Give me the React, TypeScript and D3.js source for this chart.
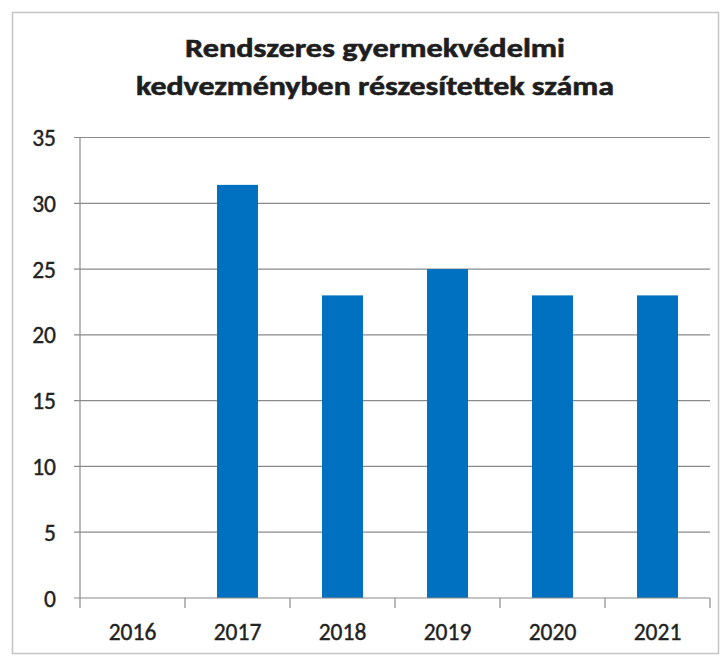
import React from "react";
import * as d3 from "d3";

const titleLines = ["Rendszeres gyermekvédelmi", "kedvezményben részesítettek száma"];
const categories = ["2016", "2017", "2018", "2019", "2020", "2021"];
const values = [0, 31.4, 23, 25, 23, 23];
const yTicks = [0, 5, 10, 15, 20, 25, 30, 35];

const W = 724;
const H = 660;
const plot = { left: 80, right: 710, top: 137.5, bottom: 598 };
const FONT = "Carlito, Lato, 'Open Sans', sans-serif";
const titleWidths = [380, 478];

export default function App() {
  const x = d3.scaleBand<string>().domain(categories).range([plot.left, plot.right]).paddingInner(0.61).paddingOuter(0.305);
  const xb = d3.scaleBand<string>().domain(categories).range([plot.left, plot.right]);
  const y = d3.scaleLinear().domain([0, 35]).range([plot.bottom, plot.top]);

  return (
    <svg width={W} height={H} style={{ position: "absolute", left: 0, top: 0, background: "#fff" }}>
      <rect x={12.5} y={12.5} width={706} height={641} fill="#fff" stroke="#c4c4c4" strokeWidth={1.5} />
      {titleLines.map((t, i) => (
        <text
          key={i}
          x={375}
          y={57 + i * 38}
          textAnchor="middle"
          fontFamily={FONT}
          fontWeight="bold"
          fontSize={27}
          fill="#1e1e1e"
          stroke="#1e1e1e"
          strokeWidth={0.6}
          textLength={titleWidths[i]}
          lengthAdjust="spacingAndGlyphs"
        >
          {t}
        </text>
      ))}
      {yTicks.map((v) => (
        <g key={v}>
          {v > 0 && <line x1={plot.left - 6} x2={plot.right} y1={y(v)} y2={y(v)} stroke="#8a8a8a" strokeWidth={1.2} />}
          <text x={56} y={y(v) + 8.5} textAnchor="end" fontFamily={FONT} fontSize={23.5} fill="#222" stroke="#222" strokeWidth={0.4}>
            {v}
          </text>
        </g>
      ))}
      {categories.map((c, i) => (
        <rect key={c} x={x(c)} y={y(values[i])} width={x.bandwidth()} height={y(0) - y(values[i])} fill="#0070c0" />
      ))}
      <line x1={plot.left} x2={plot.left} y1={plot.top} y2={plot.bottom} stroke="#8a8a8a" strokeWidth={1.2} />
      <line x1={plot.left - 6} x2={plot.right} y1={plot.bottom} y2={plot.bottom} stroke="#8a8a8a" strokeWidth={1.2} />
      {[...categories.map((c) => xb(c) as number), plot.right].map((px, i) => (
        <line key={i} x1={px} x2={px} y1={plot.bottom} y2={plot.bottom + 10} stroke="#8a8a8a" strokeWidth={1.2} />
      ))}
      {categories.map((c) => (
        <text
          key={c}
          x={(xb(c) as number) + xb.bandwidth() / 2}
          y={640}
          textAnchor="middle"
          fontFamily={FONT}
          fontSize={23.5}
          fill="#222"
          stroke="#222"
          strokeWidth={0.4}
        >
          {c}
        </text>
      ))}
    </svg>
  );
}
